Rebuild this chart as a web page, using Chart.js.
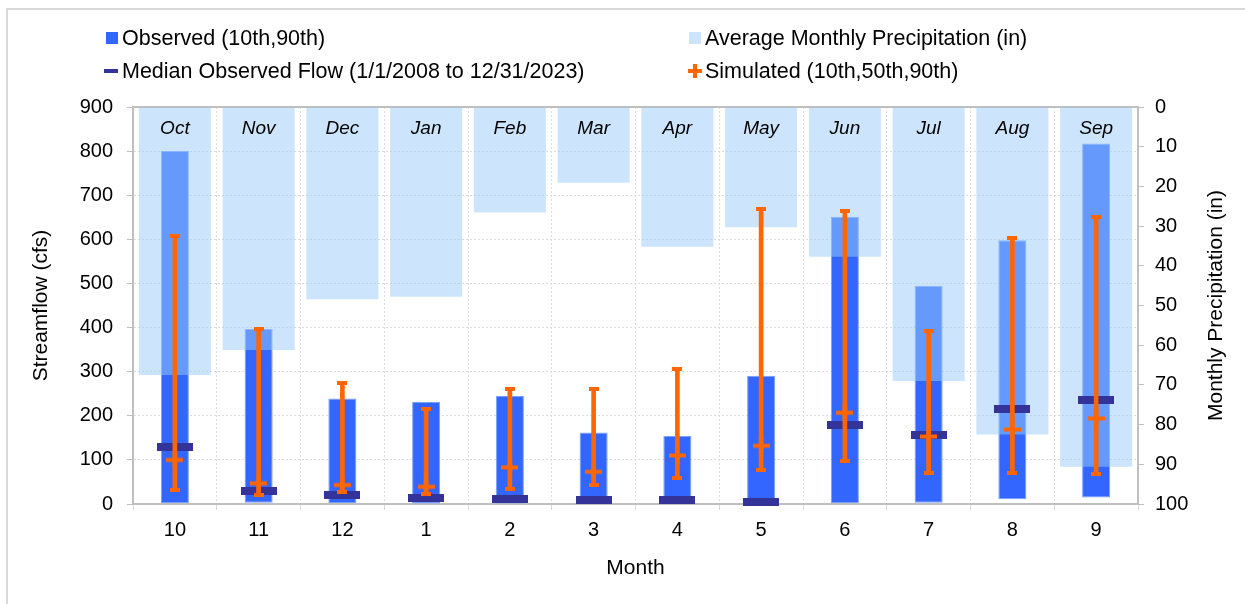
<!DOCTYPE html>
<html>
<head>
<meta charset="utf-8">
<script src="https://cdn.jsdelivr.net/npm/chart.js@4.4.1/dist/chart.umd.min.js"></script>
<style>
  body { margin: 0; background: #fff; font-family: "Liberation Sans", Arial, sans-serif; }
  #wrap { position: relative; width: 1245px; height: 604px; overflow: hidden; }
  #frame { position: absolute; left: 6px; top: 8px; width: 1260px; height: 620px; border: 2px solid #d9d9d9; }
  #chart { position: absolute; left: 0; top: 0; }
  .txt { position: absolute; font-size: 21.5px; line-height: 24px; color: #000; white-space: nowrap; }
  .mk { position: absolute; }
</style>
</head>
<body>
<div id="wrap">
  <div id="frame"></div>
  <canvas id="chart" width="1245" height="604"></canvas>

  <!-- legende -->
  <div class="mk" style="left:106px;top:32px;width:12px;height:12px;background:#3366ff"></div>
  <div class="txt" style="left:122px;top:26px">Observed (10th,90th)</div>
  <div class="mk" style="left:689px;top:32px;width:12px;height:12px;background:#cce4fc"></div>
  <div class="txt" style="left:705px;top:26px">Average Monthly Precipitation (in)</div>
  <div class="mk" style="left:104px;top:69px;width:14px;height:4px;background:#333399"></div>
  <div class="txt" style="left:122px;top:59px">Median Observed Flow (1/1/2008 to 12/31/2023)</div>
  <div class="mk" style="left:688px;top:69px;width:14px;height:4px;background:#ff6600"></div>
  <div class="mk" style="left:693px;top:64px;width:4px;height:14px;background:#ff6600"></div>
  <div class="txt" style="left:705px;top:59px">Simulated (10th,50th,90th)</div>
</div>

<script>
// mois (annee hydrologique)
const months = ["10", "11", "12", "1", "2", "3", "4", "5", "6", "7", "8", "9"];
const monthNames = ["Oct", "Nov", "Dec", "Jan", "Feb", "Mar", "Apr", "May", "Jun", "Jul", "Aug", "Sep"];

// debit observe (cfs)
const obs10 = [2, 3, 2, 1, 1, 1, 1, 1, 2, 3, 11, 15];
const obs90 = [800, 397, 239, 231, 245, 162, 154, 291, 651, 495, 598, 817];
const obsMedian = [130, 30, 21, 13, 11, 9, 9, 5, 179, 156, 215, 236];

// debit simule (cfs)
const sim10 = [32, 21, 28, 23, 35, 42, 60, 78, 97, 71, 71, 67];
const sim50 = [100, 47, 43, 39, 83, 73, 110, 132, 207, 153, 169, 194];
const sim90 = [608, 397, 275, 215, 260, 260, 305, 669, 664, 393, 604, 650];

// precipitation mensuelle moyenne (in)
const precip = [67.5, 61.2, 48.4, 47.8, 26.6, 19.1, 35.2, 30.3, 37.7, 69.0, 82.5, 90.6];

// petits canvas pour les marqueurs
function makeMarker(w, h, draw) {
  const c = document.createElement("canvas");
  c.width = w;
  c.height = h;
  draw(c.getContext("2d"));
  return c;
}
const medianMark = makeMarker(36, 8, (g) => {
  g.fillStyle = "#333399";
  g.fillRect(0, 0, 36, 8);
});
const capMark = makeMarker(10, 4, (g) => {
  g.fillStyle = "#ff6600";
  g.fillRect(0, 0, 10, 4);
});
const plusMark = makeMarker(17, 17, (g) => {
  g.fillStyle = "#ff6600";
  g.fillRect(0, 6.5, 17, 4);
  g.fillRect(6.5, 0, 4, 17);
});

const fontFamily = "'Liberation Sans', Arial, sans-serif";

// noms des mois en italique en haut de la zone
const monthLabels = {
  id: "monthLabels",
  afterDatasetsDraw(chart) {
    const ctx = chart.ctx;
    const x = chart.scales.x;
    ctx.save();
    ctx.font = "italic 19px " + fontFamily;
    ctx.fillStyle = "#000";
    ctx.textAlign = "center";
    ctx.textBaseline = "middle";
    monthNames.forEach((m, i) => {
      ctx.fillText(m, x.getPixelForValue(i), chart.chartArea.top + 22);
    });
    ctx.restore();
  },
};

// bordure du haut + titre de l'axe de droite (lu de bas en haut)
const extras = {
  id: "extras",
  beforeDatasetsDraw(chart) {
    const { ctx, chartArea } = chart;
    ctx.save();
    ctx.strokeStyle = "#bfbfbf";
    ctx.lineWidth = 2;
    ctx.beginPath();
    ctx.moveTo(chartArea.left, chartArea.top);
    ctx.lineTo(chartArea.right, chartArea.top);
    ctx.stroke();
    ctx.restore();
  },
  afterDraw(chart) {
    const { ctx, chartArea } = chart;
    const y2 = chart.scales.y2;
    ctx.save();
    ctx.translate(y2.right - 12.6, (chartArea.top + chartArea.bottom) / 2);
    ctx.rotate(-Math.PI / 2);
    ctx.font = "21px " + fontFamily;
    ctx.fillStyle = "#000";
    ctx.textAlign = "center";
    ctx.textBaseline = "middle";
    ctx.fillText("Monthly Precipitation (in)", 0, 0);
    ctx.restore();
  },
};

const tickFont = { family: fontFamily, size: 20 };
const titleFont = { family: fontFamily, size: 21 };

new Chart("chart", {
  type: "bar",
  data: {
    labels: months,
    datasets: [
      {
        label: "Observed (10th,90th)",
        data: obs10.map((v, i) => [v, obs90[i]]),
        backgroundColor: "#3366ff",
        borderColor: "#7aa0ff",
        borderWidth: 1,
        borderSkipped: false,
        grouped: false,
        barPercentage: 0.335,
        categoryPercentage: 1,
        yAxisID: "y",
        order: 5,
      },
      {
        label: "Average Monthly Precipitation (in)",
        data: precip,
        backgroundColor: "rgba(153, 203, 249, 0.5)",
        grouped: false,
        barPercentage: 0.86,
        categoryPercentage: 1,
        yAxisID: "y2",
        order: 4,
      },
      {
        type: "line",
        label: "Median Observed Flow (1/1/2008 to 12/31/2023)",
        data: obsMedian,
        showLine: false,
        pointStyle: medianMark,
        clip: false,
        yAxisID: "y",
        order: 3,
      },
      {
        label: "Simulated (10th,50th,90th)",
        data: sim10.map((v, i) => [v, sim90[i]]),
        backgroundColor: "#ff6600",
        grouped: false,
        barThickness: 4,
        yAxisID: "y",
        order: 2,
      },
      {
        type: "line",
        label: "sim90",
        data: sim90,
        showLine: false,
        pointStyle: capMark,
        clip: false,
        yAxisID: "y",
        order: 1,
      },
      {
        type: "line",
        label: "sim10",
        data: sim10,
        showLine: false,
        pointStyle: capMark,
        clip: false,
        yAxisID: "y",
        order: 1,
      },
      {
        type: "line",
        label: "sim50",
        data: sim50,
        showLine: false,
        pointStyle: plusMark,
        clip: false,
        yAxisID: "y",
        order: 0,
      },
    ],
  },
  options: {
    responsive: false,
    animation: false,
    events: [],
    layout: { padding: { left: 29, right: 16, top: 107, bottom: 23 } },
    plugins: {
      legend: { display: false },
      tooltip: { enabled: false },
    },
    scales: {
      x: {
        offset: true,
        grid: {
          offset: true,
          color: "#dcdcdc",
          tickColor: "#d9d9d9",
          tickLength: 6,
          lineWidth: 1,
        },
        border: { color: "#bfbfbf", width: 2, dash: [2, 2] },
        ticks: { color: "#000", font: tickFont, padding: 8, maxRotation: 0 },
        title: { display: true, text: "Month", color: "#000", font: titleFont, padding: 0 },
        afterFit: (s) => { s.height = 77; },
      },
      y: {
        position: "left",
        min: 0,
        max: 900,
        ticks: { stepSize: 100, color: "#000", font: tickFont, padding: 14 },
        grid: { color: "#dcdcdc", tickColor: "#bfbfbf", tickLength: 6, lineWidth: 1 },
        border: { color: "#bfbfbf", width: 2, dash: [2, 2] },
        title: { display: true, text: "Streamflow (cfs)", color: "#000", font: titleFont, padding: 0 },
        afterFit: (s) => { s.width = 104; },
      },
      y2: {
        position: "right",
        min: 0,
        max: 100,
        reverse: true,
        ticks: { stepSize: 10, color: "#000", font: tickFont, padding: 11 },
        grid: { drawOnChartArea: false, tickColor: "#bfbfbf", tickLength: 6 },
        border: { color: "#bfbfbf", width: 2 },
        afterFit: (s) => { s.width = 91; },
      },
    },
  },
  plugins: [monthLabels, extras],
});
</script>
</body>
</html>
